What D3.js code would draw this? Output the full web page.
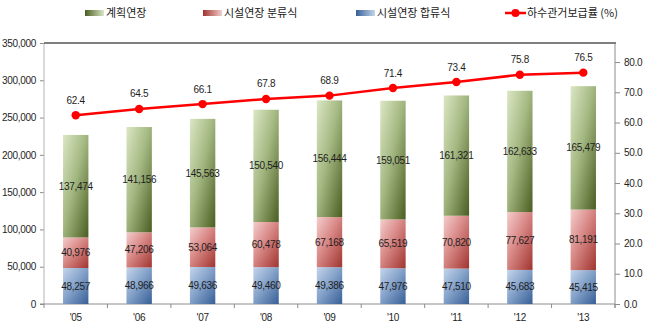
<!DOCTYPE html>
<html>
<head>
<meta charset="utf-8">
<script src="https://cdn.jsdelivr.net/npm/d3@7"></script>
<style>
  html, body { margin: 0; padding: 0; background: #fff; }
  svg { display: block; }
  .num { font-family: "Liberation Sans", Arial, sans-serif; font-size: 10px; fill: #1e1e1e; letter-spacing: -0.3px; }
  .kr { font-family: "Noto Sans CJK KR", sans-serif; font-size: 11px; fill: #1a1a1a; }
</style>
</head>
<body>
<svg id="chart" width="646" height="330"></svg>
<script>
// Sewer pipe length (km) by year, stacked, with sewer coverage rate (%)
const years = ["'05", "'06", "'07", "'08", "'09", "'10", "'11", "'12", "'13"];
const combinedSewer = [48257, 48966, 49636, 49460, 49386, 47976, 47510, 45683, 45415];   // 시설연장 합류식
const separateSewer = [40976, 47206, 53064, 60478, 67168, 65519, 70820, 77627, 81191];   // 시설연장 분류식
const plannedLength = [137474, 141156, 145563, 150540, 156444, 159051, 161321, 162633, 165479]; // 계획연장
const coverageRate = [62.4, 64.5, 66.1, 67.8, 68.9, 71.4, 73.4, 75.8, 76.5];          // 하수관거보급률 (%)

const leftTicks = [0, 50000, 100000, 150000, 200000, 250000, 300000, 350000];
const rightTicks = [0, 10, 20, 30, 40, 50, 60, 70, 80];

const seriesNames = ["계획연장", "시설연장 분류식", "시설연장 합류식"];
const lineName = "하수관거보급률 (%)";

const svg = d3.select("#chart");
const plotLeft = 44, plotRight = 615, plotTop = 43, plotBottom = 304;

const x = d3.scaleBand().domain(years).range([plotLeft, plotRight]).paddingInner(0.6).paddingOuter(0.3);
const y = d3.scaleLinear().domain([0, 350000]).range([plotBottom, plotTop]);
const y2 = d3.scaleLinear().domain([0, 86.3]).range([plotBottom, plotTop]);

// gradients for the bar fills
const defs = svg.append("defs");
const palettes = {
  green: ["#dbe7c4", "#a5b983", "#4a5e22"],
  red:   ["#f4cdcc", "#d88886", "#a0342f"],
  blue:  ["#c3d5eb", "#87a4cb", "#375f96"]
};
Object.entries(palettes).forEach(([k, c]) => {
  const g = defs.append("linearGradient").attr("id", "g-" + k)
    .attr("x1", 0).attr("y1", 0).attr("x2", 1).attr("y2", 1);
  g.append("stop").attr("offset", "0%").attr("stop-color", c[0]);
  g.append("stop").attr("offset", "45%").attr("stop-color", c[1]);
  g.append("stop").attr("offset", "100%").attr("stop-color", c[2]);
  const h = defs.append("linearGradient").attr("id", "gl-" + k)
    .attr("x1", 0).attr("y1", 0).attr("x2", 1).attr("y2", 0);
  h.append("stop").attr("offset", "0%").attr("stop-color", c[2]);
  h.append("stop").attr("offset", "100%").attr("stop-color", c[0]);
});

// stacked table
const table = years.map((yr, i) => ({
  year: yr, combined: combinedSewer[i], separate: separateSewer[i], planned: plannedLength[i]
}));
const keys = ["combined", "separate", "planned"];
const fills = { combined: "url(#g-blue)", separate: "url(#g-red)", planned: "url(#g-green)" };
const stacked = d3.stack().keys(keys)(table);

// axes
const axisColor = "#8c8c8c";
const gL = svg.append("g").attr("transform", `translate(${plotLeft},0)`)
  .call(d3.axisLeft(y).tickValues(leftTicks).tickSize(4).tickPadding(4).tickFormat(d3.format(",")));
const gR = svg.append("g").attr("transform", `translate(${plotRight},0)`)
  .call(d3.axisRight(y2).tickValues(rightTicks).tickSize(5).tickPadding(4).tickFormat(d3.format(".1f")));
const gB = svg.append("g").attr("transform", `translate(0,${plotBottom})`)
  .call(d3.axisBottom(x).tickSize(0).tickPadding(10));
[gL, gR, gB].forEach(g => {
  g.selectAll("path.domain").remove();
  g.selectAll("line").attr("stroke", axisColor);
  g.selectAll("text").attr("class", "num").attr("fill", "#1e1e1e");
});
// category separators below the baseline
gB.selectAll("line.sep").data(d3.range(years.length + 1)).enter().append("line")
  .attr("class", "sep")
  .attr("x1", i => plotLeft + i * x.step()).attr("x2", i => plotLeft + i * x.step())
  .attr("y1", 0).attr("y2", 4).attr("stroke", axisColor);

// axis lines and frame
svg.append("line").attr("x1", plotLeft).attr("x2", plotLeft).attr("y1", plotTop).attr("y2", plotBottom)
  .attr("stroke", "#b4b4b4");
svg.append("line").attr("x1", plotRight).attr("x2", plotRight).attr("y1", plotTop).attr("y2", plotBottom + 4)
  .attr("stroke", axisColor);
svg.append("line").attr("x1", plotLeft - 4).attr("x2", plotRight).attr("y1", plotBottom).attr("y2", plotBottom)
  .attr("stroke", axisColor);
svg.append("line").attr("x1", plotLeft).attr("x2", plotRight + 1).attr("y1", plotTop).attr("y2", plotTop)
  .attr("stroke", "#7f7f7f").attr("stroke-width", 2);

// bars
const layers = svg.append("g").selectAll("g").data(stacked).enter().append("g")
  .attr("fill", d => fills[d.key]);
layers.selectAll("rect").data(d => d).enter().append("rect")
  .attr("x", d => x(d.data.year))
  .attr("width", x.bandwidth())
  .attr("y", d => y(d[1]))
  .attr("height", d => y(d[0]) - y(d[1]));

// bar value labels
const fmt = d3.format(",");
stacked.forEach(layer => {
  svg.append("g").selectAll("text").data(layer).enter().append("text")
    .attr("class", "num")
    .attr("x", d => x(d.data.year) + x.bandwidth() / 2)
    .attr("y", d => (y(d[0]) + y(d[1])) / 2)
    .attr("dy", "0.35em")
    .attr("text-anchor", "middle")
    .text(d => fmt(d.data[layer.key]));
});

// coverage rate line
const cx = (d, i) => x(years[i]) + x.bandwidth() / 2;
svg.append("path").datum(coverageRate)
  .attr("fill", "none").attr("stroke", "#ff0000").attr("stroke-width", 2.5)
  .attr("d", d3.line().x(cx).y(d => y2(d)));
svg.append("g").selectAll("circle").data(coverageRate).enter().append("circle")
  .attr("cx", cx).attr("cy", d => y2(d)).attr("r", 4.2).attr("fill", "#ff0000");
svg.append("g").selectAll("text").data(coverageRate).enter().append("text")
  .attr("class", "num")
  .attr("x", cx).attr("y", d => y2(d) - 15).attr("dy", "0.35em")
  .attr("text-anchor", "middle")
  .text(d => d3.format(".1f")(d));

// legend
const legendY = 13;
const legendItems = [
  { name: seriesNames[0], x: 85, fill: "url(#gl-green)" },
  { name: seriesNames[1], x: 203, fill: "url(#gl-red)" },
  { name: seriesNames[2], x: 356, fill: "url(#gl-blue)" }
];
const lg = svg.append("g");
legendItems.forEach(it => {
  lg.append("rect").attr("x", it.x).attr("y", legendY - 3).attr("width", 19).attr("height", 6)
    .attr("fill", it.fill);
  lg.append("text").attr("class", "kr").attr("x", it.x + 21).attr("y", legendY).attr("dy", "0.35em")
    .text(it.name);
});
lg.append("line").attr("x1", 505).attr("x2", 526).attr("y1", legendY).attr("y2", legendY)
  .attr("stroke", "#ff0000").attr("stroke-width", 2.5);
lg.append("circle").attr("cx", 515.5).attr("cy", legendY).attr("r", 4).attr("fill", "#ff0000");
lg.append("text").attr("class", "kr").attr("x", 527).attr("y", legendY).attr("dy", "0.35em")
  .text(lineName);
</script>
</body>
</html>
